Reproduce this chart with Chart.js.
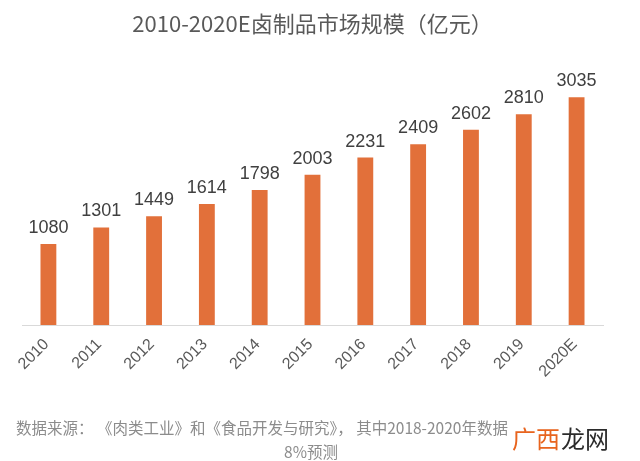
<!DOCTYPE html>
<html>
<head>
<meta charset="utf-8">
<script src="https://cdn.jsdelivr.net/npm/chart.js@4/dist/chart.umd.min.js"></script>
<style>
  html, body { margin: 0; padding: 0; background: #fff; }
  #wrap { width: 640px; height: 461px; }
</style>
</head>
<body>
<div id="wrap"><canvas id="myChart" width="640" height="461"></canvas></div>
<script>
// data block
const years = ["2010", "2011", "2012", "2013", "2014", "2015", "2016", "2017", "2018", "2019", "2020E"];
const marketSize = [1080, 1301, 1449, 1614, 1798, 2003, 2231, 2409, 2602, 2810, 3035];
const titleText = "2010-2020E卤制品市场规模（亿元）";
const sourceLine1 = "数据来源： 《肉类工业》和《食品开发与研究》， 其中2018-2020年数据";
const sourceLine2 = "8%预测";

// draws the number above each bar
const barLabels = {
  id: "barLabels",
  afterDatasetsDraw(chart) {
    const ctx = chart.ctx;
    const meta = chart.getDatasetMeta(0);
    ctx.save();
    ctx.font = "18px 'Liberation Sans', Arial, sans-serif";
    ctx.fillStyle = "#404040";
    ctx.textAlign = "center";
    ctx.textBaseline = "alphabetic";
    meta.data.forEach((bar, i) => {
      ctx.fillText(marketSize[i], bar.x, bar.y - 11);
    });
    ctx.restore();
  },
};

// source note + watermark at the bottom
const footerNote = {
  id: "footerNote",
  afterDraw(chart) {
    const ctx = chart.ctx;
    ctx.save();
    ctx.font = "15.5px 'Noto Sans CJK SC', sans-serif";
    ctx.fillStyle = "#8c8c8c";
    ctx.textBaseline = "middle";
    ctx.textAlign = "left";
    ctx.fillText(sourceLine1, 16, 428);
    ctx.textAlign = "center";
    ctx.fillText(sourceLine2, 311, 452);

    // site watermark over the note
    ctx.font = "24px 'Noto Sans CJK SC', sans-serif";
    ctx.textAlign = "left";
    ctx.fillStyle = "#e8641e";
    ctx.fillText("广西", 512, 439);
    ctx.fillStyle = "#2b2b2b";
    ctx.fillText("龙网", 561, 439);
    ctx.restore();
  },
};

const data = {
  labels: years,
  datasets: [
    {
      data: marketSize,
      backgroundColor: "#e2703a",
      categoryPercentage: 1,
      barPercentage: 0.3,
    },
  ],
};

const config = {
  type: "bar",
  data,
  options: {
    responsive: false,
    animation: false,
    layout: {
      padding: { left: 22, right: 37, top: 0, bottom: 66 },
    },
    plugins: {
      legend: { display: false },
      tooltip: { enabled: false },
      title: {
        display: true,
        text: titleText,
        color: "#595959",
        font: { family: "'Noto Sans CJK SC', sans-serif", size: 22, weight: "normal", lineHeight: 1.2 },
        padding: { top: 10, bottom: 26 },
      },
    },
    scales: {
      x: {
        grid: { display: false },
        border: { display: true, color: "#d9d9d9", width: 1 },
        ticks: {
          color: "#595959",
          font: { family: "'Liberation Sans', Arial, sans-serif", size: 16 },
          minRotation: 45,
          maxRotation: 45,
          padding: 2,
          labelOffset: -2,
        },
        afterFit: (scale) => {
          scale.height = 70;
        },
      },
      y: {
        display: false,
        min: 0,
        max: 3500,
      },
    },
  },
  plugins: [barLabels, footerNote],
};

const myChart = new Chart(document.getElementById("myChart"), config);
</script>
</body>
</html>
